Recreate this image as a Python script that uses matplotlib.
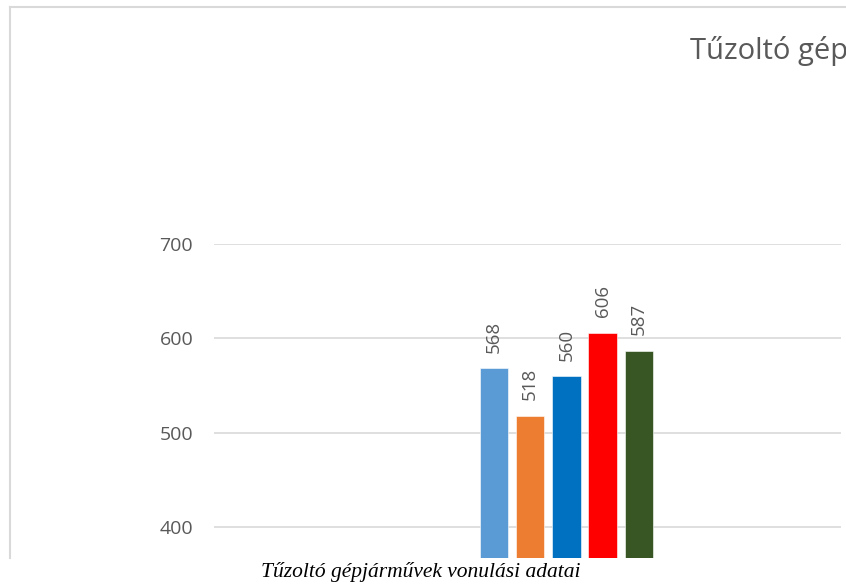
import matplotlib
matplotlib.use("Agg")
import matplotlib.pyplot as plt
from matplotlib.lines import Line2D

# data
series = ["1", "2", "3", "4", "5"]
values = [568, 518, 560, 606, 587]
colors = ["#5B9BD5", "#ED7D31", "#0070C0", "#FF0000", "#375623"]
yticks = [400, 500, 600, 700]
title = "Tűzoltó gép"
caption = "Tűzoltó gépjárművek vonulási adatai"

W, H = 846, 585
fig = plt.figure(figsize=(W / 100, H / 100), dpi=100)

# axes placed in pixel terms: x 214..841, y 243.5..558
ax = fig.add_axes([214 / W, 1 - 558 / H, (841 - 214) / W, (558 - 243.5) / H])
ax.set_ylim(367.1, 700.5)
ax.set_xlim(-7.735, 9.586)

for i, (v, c) in enumerate(zip(values, colors)):
    ax.bar(i, v - 300, bottom=300, width=0.78, color=c, edgecolor="white",
           linewidth=0.4, zorder=3)
    ax.annotate(str(v), (i, v), xytext=(0, 11), textcoords="offset points",
                rotation=90, ha="center", va="bottom", fontsize=13.5,
                color="#595959", family="Open Sans", annotation_clip=False)

ax.set_yticks(yticks)
ax.set_yticklabels([str(t) for t in yticks], family="Open Sans", fontsize=14,
                   color="#595959")
ax.tick_params(axis="y", length=0, pad=15)
ax.set_xticks([])
ax.grid(axis="y", color="#D9D9D9", linewidth=1.2, zorder=0)
for s in ax.spines.values():
    s.set_visible(False)

# chart frame (cut off at right and bottom)
fig.add_artist(Line2D([9.5 / W, 9.5 / W], [1 - 558 / H, 1 - 7 / H],
                      color="#D9D9D9", linewidth=1.5))
fig.add_artist(Line2D([9.5 / W, 1.0], [1 - 7 / H, 1 - 7 / H],
                      color="#D9D9D9", linewidth=1.5))

fig.text(690 / W, 1 - 59 / H, title, ha="left", va="baseline", fontsize=21,
         color="#595959", family="Open Sans")
fig.text(421 / W, 1 - 572 / H, caption, ha="center", va="center", fontsize=15.5,
         style="italic", family="Liberation Serif", color="black")

fig.savefig("out.png", dpi=100)
